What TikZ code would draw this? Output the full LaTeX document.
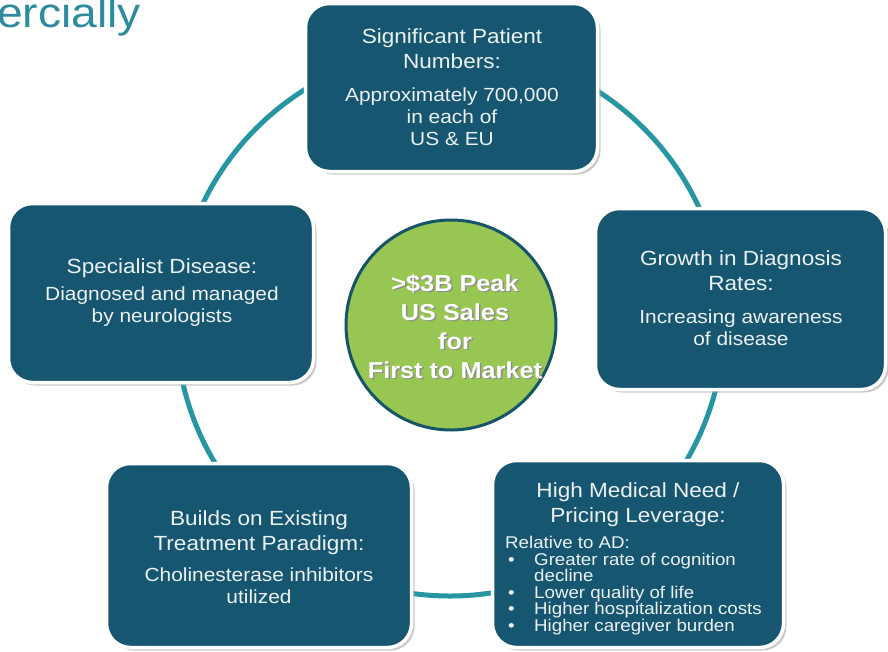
\documentclass[tikz,border=0pt]{standalone}
\usepackage{fontspec}
\setmainfont[FakeStretch=1.1]{Liberation Sans}
\usetikzlibrary{shadows}
\definecolor{boxfill}{RGB}{22,86,112}
\definecolor{ringc}{RGB}{38,150,162}
\definecolor{greenc}{RGB}{152,198,82}
\definecolor{circedge}{RGB}{22,84,104}
\definecolor{txtc}{RGB}{236,241,242}
\definecolor{titlec}{RGB}{46,140,160}
\tikzset{
  box/.style={draw=white, line width=3.5pt, fill=boxfill, rounded corners=24pt,
    drop shadow={shadow xshift=3pt, shadow yshift=-3pt, fill=black!35, opacity=0.6}},
  head/.style={text=txtc, align=center, font=\fontsize{20.5}{25}\selectfont, inner sep=0pt, anchor=base},
  body/.style={text=txtc, align=center, font=\fontsize{19}{22}\selectfont, inner sep=0pt, anchor=base},
  small/.style={text=txtc, align=left, font=\fontsize{17}{17}\selectfont, inner sep=0pt, anchor=base west},
  ctext/.style={text=white, align=center, font=\bfseries\fontsize{23}{29}\selectfont, inner sep=0pt, anchor=base},
  cshadow/.style={text=black!45, align=center, font=\bfseries\fontsize{23}{29}\selectfont, inner sep=0pt, anchor=base},
}
\begin{document}
\begin{tikzpicture}[x=1pt,y=-1pt]
\useasboundingbox[fill=white] (0,0) rectangle (888,651);
% title fragment
\node[anchor=base west, inner sep=0pt, text=titlec, font=\fontsize{42}{42}\selectfont] (title) at (-3,27) {ercially};
% ring
\draw[ringc, line width=5pt] (450,322) circle[radius=274pt];
% boxes
\node[box, minimum width=292, minimum height=168] (top) at (451.5,87.5) {};
\node[box, minimum width=305, minimum height=179] (left) at (161,293) {};
\node[box, minimum width=290, minimum height=181] (right) at (740.5,299) {};
\node[box, minimum width=305, minimum height=184] (bl) at (259,555.5) {};
\node[box, minimum width=291, minimum height=187] (br) at (638,554) {};
% centre circle
\node[circle, fill=greenc, draw=circedge, line width=3pt, minimum size=210] (hub) at (451,325) {};
% top text (base = last line)
\node[head] (t1) at (452,68) {Significant Patient\\Numbers:};
\node[body] (t2) at (452,145) {Approximately 700,000\\in each of\\US \& EU};
% left text
\node[head] (l1) at (162,273) {Specialist Disease:};
\node[body] (l2) at (162,322) {Diagnosed and managed\\by neurologists};
% right text
\node[head] (r1) at (741,290) {Growth in Diagnosis\\Rates:};
\node[body] (r2) at (741,345) {Increasing awareness\\of disease};
% bottom-left text
\node[head] (b1) at (259,550) {Builds on Existing\\Treatment Paradigm:};
\node[body] (b2) at (259,603) {Cholinesterase inhibitors\\utilized};
% bottom-right text
\node[head] (h1) at (638,522) {High Medical Need /\\Pricing Leverage:};
\node[small] (rel) at (505,548) {Relative to AD:};
\node[small] (d1) at (508,565) {\textbullet};
\node[small] (e1) at (534,565) {Greater rate of cognition};
\node[small] (e1b) at (534,581) {decline};
\node[small] (d2) at (508,598) {\textbullet};
\node[small] (e2) at (534,598) {Lower quality of life};
\node[small] (d3) at (508,614) {\textbullet};
\node[small] (e3) at (534,614) {Higher hospitalization costs};
\node[small] (d4) at (508,631) {\textbullet};
\node[small] (e4) at (534,631) {Higher caregiver burden};
% centre text
\node[cshadow] (cs) at (456.5,379.5) {>\$3B Peak\\US Sales\\for\\First to Market};
\node[ctext] (ct) at (455,378) {>\$3B Peak\\US Sales\\for\\First to Market};
\end{tikzpicture}
\end{document}
